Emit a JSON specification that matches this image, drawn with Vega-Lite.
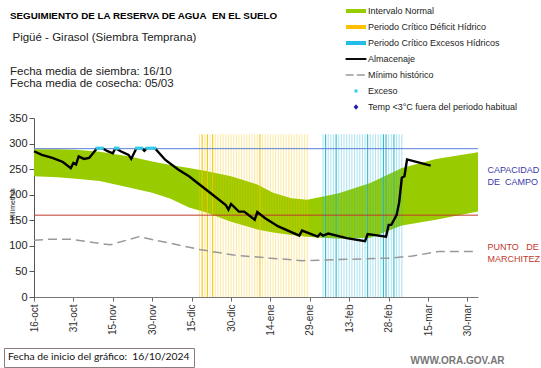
{
  "$schema": "https://vega.github.io/schema/vega-lite/v6.json",
  "width": 444,
  "height": 179,
  "autosize": "none",
  "padding": {"left": 34, "top": 118, "right": 63, "bottom": 71},
  "background": "white",
  "config": {"view": {"stroke": null}, "font": "Liberation Sans"},
  "title": {
    "text": "SEGUIMIENTO DE LA RESERVA DE AGUA\u00a0 EN EL SUELO",
    "subtitle": ["Fecha media de siembra: 16/10", "Fecha media de cosecha: 05/03"],
    "anchor": "start",
    "frame": "group",
    "dx": -24,
    "offset": -86,
    "font": "Liberation Sans",
    "fontSize": 9.8,
    "fontWeight": "bold",
    "color": "#000000",
    "subtitleFont": "Liberation Sans",
    "subtitleFontSize": 11.5,
    "subtitleColor": "#222222",
    "subtitleLineHeight": 11.5,
    "subtitlePadding": 45
  },
  "datasets": {
    "banda": [
      {"fecha": "2024-10-16", "min": 236, "max": 289},
      {"fecha": "2024-10-25", "min": 234, "max": 289},
      {"fecha": "2024-11-01", "min": 231, "max": 288},
      {"fecha": "2024-11-10", "min": 227, "max": 284},
      {"fecha": "2024-11-22", "min": 213, "max": 274},
      {"fecha": "2024-11-30", "min": 204, "max": 265},
      {"fecha": "2024-12-07", "min": 192, "max": 258},
      {"fecha": "2024-12-14", "min": 175, "max": 252},
      {"fecha": "2024-12-20", "min": 166, "max": 247},
      {"fecha": "2024-12-30", "min": 147, "max": 236},
      {"fecha": "2025-01-09", "min": 132, "max": 220},
      {"fecha": "2025-01-15", "min": 126, "max": 204},
      {"fecha": "2025-01-22", "min": 121, "max": 193},
      {"fecha": "2025-01-28", "min": 118, "max": 190},
      {"fecha": "2025-02-09", "min": 114, "max": 203},
      {"fecha": "2025-02-21", "min": 116, "max": 223},
      {"fecha": "2025-03-05", "min": 140, "max": 252},
      {"fecha": "2025-03-18", "min": 151, "max": 270},
      {"fecha": "2025-04-03", "min": 167, "max": 283}
    ],
    "franjas": [
      {"fecha": "2024-12-18", "periodo": "Déficit", "intensidad": 1},
      {"fecha": "2024-12-19", "periodo": "Déficit", "intensidad": 2},
      {"fecha": "2024-12-20", "periodo": "Déficit", "intensidad": 1},
      {"fecha": "2024-12-21", "periodo": "Déficit", "intensidad": 2},
      {"fecha": "2024-12-22", "periodo": "Déficit", "intensidad": 1},
      {"fecha": "2024-12-23", "periodo": "Déficit", "intensidad": 2},
      {"fecha": "2024-12-24", "periodo": "Déficit", "intensidad": 1},
      {"fecha": "2024-12-25", "periodo": "Déficit", "intensidad": 1},
      {"fecha": "2024-12-26", "periodo": "Déficit", "intensidad": 1},
      {"fecha": "2024-12-27", "periodo": "Déficit", "intensidad": 1},
      {"fecha": "2024-12-28", "periodo": "Déficit", "intensidad": 1},
      {"fecha": "2024-12-29", "periodo": "Déficit", "intensidad": 1},
      {"fecha": "2024-12-30", "periodo": "Déficit", "intensidad": 1},
      {"fecha": "2024-12-31", "periodo": "Déficit", "intensidad": 1},
      {"fecha": "2025-01-01", "periodo": "Déficit", "intensidad": 1},
      {"fecha": "2025-01-02", "periodo": "Déficit", "intensidad": 1},
      {"fecha": "2025-01-03", "periodo": "Déficit", "intensidad": 1},
      {"fecha": "2025-01-04", "periodo": "Déficit", "intensidad": 1},
      {"fecha": "2025-01-05", "periodo": "Déficit", "intensidad": 1},
      {"fecha": "2025-01-06", "periodo": "Déficit", "intensidad": 1},
      {"fecha": "2025-01-07", "periodo": "Déficit", "intensidad": 1},
      {"fecha": "2025-01-08", "periodo": "Déficit", "intensidad": 1},
      {"fecha": "2025-01-09", "periodo": "Déficit", "intensidad": 1},
      {"fecha": "2025-01-10", "periodo": "Déficit", "intensidad": 2},
      {"fecha": "2025-01-11", "periodo": "Déficit", "intensidad": 1},
      {"fecha": "2025-01-12", "periodo": "Déficit", "intensidad": 1},
      {"fecha": "2025-01-13", "periodo": "Déficit", "intensidad": 1},
      {"fecha": "2025-01-14", "periodo": "Déficit", "intensidad": 1},
      {"fecha": "2025-01-15", "periodo": "Déficit", "intensidad": 1},
      {"fecha": "2025-01-16", "periodo": "Déficit", "intensidad": 1},
      {"fecha": "2025-01-17", "periodo": "Déficit", "intensidad": 1},
      {"fecha": "2025-01-18", "periodo": "Déficit", "intensidad": 1},
      {"fecha": "2025-01-19", "periodo": "Déficit", "intensidad": 1},
      {"fecha": "2025-01-20", "periodo": "Déficit", "intensidad": 1},
      {"fecha": "2025-01-21", "periodo": "Déficit", "intensidad": 1},
      {"fecha": "2025-01-22", "periodo": "Déficit", "intensidad": 1},
      {"fecha": "2025-01-23", "periodo": "Déficit", "intensidad": 1},
      {"fecha": "2025-01-24", "periodo": "Déficit", "intensidad": 1},
      {"fecha": "2025-01-25", "periodo": "Déficit", "intensidad": 1},
      {"fecha": "2025-01-26", "periodo": "Déficit", "intensidad": 1},
      {"fecha": "2025-01-27", "periodo": "Déficit", "intensidad": 1},
      {"fecha": "2025-01-28", "periodo": "Déficit", "intensidad": 1},
      {"fecha": "2025-02-03", "periodo": "Excesos", "intensidad": 1},
      {"fecha": "2025-02-04", "periodo": "Excesos", "intensidad": 2},
      {"fecha": "2025-02-05", "periodo": "Excesos", "intensidad": 1},
      {"fecha": "2025-02-06", "periodo": "Excesos", "intensidad": 1},
      {"fecha": "2025-02-07", "periodo": "Excesos", "intensidad": 1},
      {"fecha": "2025-02-08", "periodo": "Excesos", "intensidad": 2},
      {"fecha": "2025-02-09", "periodo": "Excesos", "intensidad": 1},
      {"fecha": "2025-02-10", "periodo": "Excesos", "intensidad": 1},
      {"fecha": "2025-02-11", "periodo": "Excesos", "intensidad": 1},
      {"fecha": "2025-02-12", "periodo": "Excesos", "intensidad": 1},
      {"fecha": "2025-02-13", "periodo": "Excesos", "intensidad": 1},
      {"fecha": "2025-02-14", "periodo": "Excesos", "intensidad": 1},
      {"fecha": "2025-02-15", "periodo": "Excesos", "intensidad": 1},
      {"fecha": "2025-02-16", "periodo": "Excesos", "intensidad": 1},
      {"fecha": "2025-02-17", "periodo": "Excesos", "intensidad": 1},
      {"fecha": "2025-02-18", "periodo": "Excesos", "intensidad": 1},
      {"fecha": "2025-02-19", "periodo": "Excesos", "intensidad": 1},
      {"fecha": "2025-02-20", "periodo": "Excesos", "intensidad": 2},
      {"fecha": "2025-02-21", "periodo": "Excesos", "intensidad": 1},
      {"fecha": "2025-02-22", "periodo": "Excesos", "intensidad": 1},
      {"fecha": "2025-02-23", "periodo": "Excesos", "intensidad": 1},
      {"fecha": "2025-02-24", "periodo": "Excesos", "intensidad": 1},
      {"fecha": "2025-02-25", "periodo": "Excesos", "intensidad": 1},
      {"fecha": "2025-02-26", "periodo": "Excesos", "intensidad": 2},
      {"fecha": "2025-02-27", "periodo": "Excesos", "intensidad": 2},
      {"fecha": "2025-02-28", "periodo": "Excesos", "intensidad": 1},
      {"fecha": "2025-03-01", "periodo": "Excesos", "intensidad": 1},
      {"fecha": "2025-03-02", "periodo": "Excesos", "intensidad": 2},
      {"fecha": "2025-03-03", "periodo": "Excesos", "intensidad": 1},
      {"fecha": "2025-03-04", "periodo": "Excesos", "intensidad": 1},
      {"fecha": "2025-03-05", "periodo": "Excesos", "intensidad": 1}
    ],
    "niveles": [
      {"nivel": "Capacidad de campo", "mm": 290},
      {"nivel": "Punto de marchitez", "mm": 160}
    ],
    "minimo": [
      {"fecha": "2024-10-16", "mm": 111},
      {"fecha": "2024-10-22", "mm": 113},
      {"fecha": "2024-10-30", "mm": 113},
      {"fecha": "2024-11-14", "mm": 102},
      {"fecha": "2024-11-25", "mm": 118},
      {"fecha": "2024-12-05", "mm": 107},
      {"fecha": "2024-12-18", "mm": 93},
      {"fecha": "2024-12-31", "mm": 82},
      {"fecha": "2025-01-14", "mm": 76},
      {"fecha": "2025-01-26", "mm": 71},
      {"fecha": "2025-02-08", "mm": 73},
      {"fecha": "2025-02-28", "mm": 76},
      {"fecha": "2025-03-09", "mm": 80},
      {"fecha": "2025-03-19", "mm": 89},
      {"fecha": "2025-04-03", "mm": 89}
    ],
    "almacenaje": [
      {"fecha": "2024-10-16", "mm": 285},
      {"fecha": "2024-10-19", "mm": 278},
      {"fecha": "2024-10-23", "mm": 272},
      {"fecha": "2024-10-27", "mm": 264},
      {"fecha": "2024-10-30", "mm": 252},
      {"fecha": "2024-10-31", "mm": 262},
      {"fecha": "2024-11-01", "mm": 259},
      {"fecha": "2024-11-02", "mm": 275},
      {"fecha": "2024-11-04", "mm": 270},
      {"fecha": "2024-11-06", "mm": 272},
      {"fecha": "2024-11-07", "mm": 278},
      {"fecha": "2024-11-09", "mm": 291},
      {"fecha": "2024-11-11", "mm": 291},
      {"fecha": "2024-11-13", "mm": 285},
      {"fecha": "2024-11-15", "mm": 281},
      {"fecha": "2024-11-16", "mm": 291},
      {"fecha": "2024-11-18", "mm": 285},
      {"fecha": "2024-11-21", "mm": 278},
      {"fecha": "2024-11-22", "mm": 270},
      {"fecha": "2024-11-24", "mm": 291},
      {"fecha": "2024-11-26", "mm": 291},
      {"fecha": "2024-11-27", "mm": 286},
      {"fecha": "2024-11-28", "mm": 291},
      {"fecha": "2024-12-01", "mm": 291},
      {"fecha": "2024-12-05", "mm": 268},
      {"fecha": "2024-12-10", "mm": 249},
      {"fecha": "2024-12-14", "mm": 236},
      {"fecha": "2024-12-18", "mm": 220},
      {"fecha": "2024-12-23", "mm": 200},
      {"fecha": "2024-12-28", "mm": 180},
      {"fecha": "2024-12-29", "mm": 171},
      {"fecha": "2024-12-30", "mm": 182},
      {"fecha": "2025-01-02", "mm": 167},
      {"fecha": "2025-01-04", "mm": 167},
      {"fecha": "2025-01-08", "mm": 151},
      {"fecha": "2025-01-09", "mm": 166},
      {"fecha": "2025-01-12", "mm": 154},
      {"fecha": "2025-01-17", "mm": 138},
      {"fecha": "2025-01-25", "mm": 120},
      {"fecha": "2025-01-26", "mm": 130},
      {"fecha": "2025-02-01", "mm": 118},
      {"fecha": "2025-02-02", "mm": 124},
      {"fecha": "2025-02-03", "mm": 120},
      {"fecha": "2025-02-05", "mm": 124},
      {"fecha": "2025-02-12", "mm": 115},
      {"fecha": "2025-02-19", "mm": 109},
      {"fecha": "2025-02-20", "mm": 123},
      {"fecha": "2025-02-27", "mm": 118},
      {"fecha": "2025-02-28", "mm": 141},
      {"fecha": "2025-03-01", "mm": 141},
      {"fecha": "2025-03-03", "mm": 160},
      {"fecha": "2025-03-04", "mm": 185},
      {"fecha": "2025-03-05", "mm": 233},
      {"fecha": "2025-03-06", "mm": 236},
      {"fecha": "2025-03-07", "mm": 269},
      {"fecha": "2025-03-16", "mm": 257}
    ],
    "exceso": [
      {"fecha": "2024-11-09", "mm": 291, "serie": "Exceso"},
      {"fecha": "2024-11-10", "mm": 291, "serie": "Exceso"},
      {"fecha": "2024-11-11", "mm": 291, "serie": "Exceso"},
      {"fecha": "2024-11-16", "mm": 291, "serie": "Exceso"},
      {"fecha": "2024-11-17", "mm": 291, "serie": "Exceso"},
      {"fecha": "2024-11-24", "mm": 291, "serie": "Exceso"},
      {"fecha": "2024-11-25", "mm": 291, "serie": "Exceso"},
      {"fecha": "2024-11-26", "mm": 291, "serie": "Exceso"},
      {"fecha": "2024-11-28", "mm": 291, "serie": "Exceso"},
      {"fecha": "2024-11-29", "mm": 291, "serie": "Exceso"},
      {"fecha": "2024-11-30", "mm": 291, "serie": "Exceso"},
      {"fecha": "2024-12-01", "mm": 291, "serie": "Exceso"}
    ]
  },
  "layer": [
    {
      "data": {"name": "banda"},
      "mark": {"type": "area", "color": "#99cc00", "opacity": 1},
      "encoding": {
        "x": {
          "field": "fecha", "type": "temporal",
          "scale": {"type": "utc", "domain": [{"year": 2024, "month": 10, "date": 16, "utc": true}, {"year": 2025, "month": 4, "date": 3, "utc": true}]},
          "axis": {
            "orient": "bottom",
            "values": [
              {"year": 2024, "month": 10, "date": 16, "utc": true},
              {"year": 2024, "month": 10, "date": 31, "utc": true},
              {"year": 2024, "month": 11, "date": 15, "utc": true},
              {"year": 2024, "month": 11, "date": 30, "utc": true},
              {"year": 2024, "month": 12, "date": 15, "utc": true},
              {"year": 2024, "month": 12, "date": 30, "utc": true},
              {"year": 2025, "month": 1, "date": 14, "utc": true},
              {"year": 2025, "month": 1, "date": 29, "utc": true},
              {"year": 2025, "month": 2, "date": 13, "utc": true},
              {"year": 2025, "month": 2, "date": 28, "utc": true},
              {"year": 2025, "month": 3, "date": 15, "utc": true},
              {"year": 2025, "month": 3, "date": 30, "utc": true}
            ],
            "labelExpr": "utcdate(datum.value) + '-' + ['ene','feb','mar','abr','may','jun','jul','ago','sep','oct','nov','dic'][utcmonth(datum.value)]",
            "labelAngle": -90,
            "labelAlign": "right",
            "labelBaseline": "middle",
            "labelFont": "Liberation Sans",
            "labelFontSize": 10,
            "labelColor": "#333333",
            "labelPadding": 3,
            "labelOverlap": false,
            "labelFlush": false,
            "tickSize": 4,
            "tickColor": "#666666",
            "domainColor": "#777777",
            "grid": false,
            "title": null
          }
        },
        "y": {
          "field": "min", "type": "quantitative",
          "scale": {"domain": [0, 350], "nice": false},
          "axis": {
            "values": [0, 50, 100, 150, 200, 250, 300, 350],
            "labelFont": "Liberation Sans",
            "labelFontSize": 11,
            "labelColor": "#222222",
            "labelPadding": 2,
            "tickSize": 5,
            "tickColor": "#555555",
            "domainColor": "#555555",
            "grid": false,
            "title": "Milímetros",
            "titleFont": "Liberation Sans",
            "titleFontSize": 7,
            "titleFontWeight": "normal",
            "titleColor": "#222222",
            "titleAngle": -90,
            "titleAlign": "center",
            "titleBaseline": "middle",
            "titleX": -22,
            "titleY": 86
          }
        },
        "y2": {"field": "max"}
      }
    },
    {
      "data": {"name": "franjas"},
      "mark": {"type": "rule", "strokeWidth": 1.1},
      "encoding": {
        "x": {"field": "fecha", "type": "temporal", "scale": {"type": "utc", "domain": [{"year": 2024, "month": 10, "date": 16, "utc": true}, {"year": 2025, "month": 4, "date": 3, "utc": true}]}, "axis": null},
        "y": {"datum": 0, "type": "quantitative", "scale": {"domain": [0, 350], "nice": false}, "axis": null},
        "y2": {"datum": 318},
        "stroke": {
          "field": "periodo", "type": "nominal",
          "scale": {"domain": ["Déficit", "Excesos", "Capacidad de campo", "Punto de marchitez"], "range": ["#f5c400", "#1cb5d6", "#5b7fd6", "#c0392b"]},
          "legend": {
            "values": [],
            "orient": "none",
            "legendX": -30,
            "legendY": 230,
            "title": "Fecha de inicio del gráfico:\u00a0 16/10/2024\u00a0\u00a0\u00a0\u00a0\u00a0\u00a0\u00a0\u00a0\u00a0\u00a0",
            "titleFont": "Lato",
            "titleFontSize": 10.3,
            "titleFontWeight": "normal",
            "titleColor": "#111111",
            "titleBaseline": "top",
            "titleLimit": 400,
            "titlePadding": 0,
            "padding": 4,
            "strokeColor": "#8a7c7c",
            "fillColor": "#ffffff"
          }
        },
        "opacity": {"field": "intensidad", "type": "ordinal", "scale": {"domain": [1, 2], "range": [0.35, 0.95]}, "legend": null}
      }
    },
    {
      "data": {"name": "niveles"},
      "mark": {"type": "rule", "strokeWidth": 1},
      "encoding": {
        "y": {
          "field": "mm", "type": "quantitative",
          "scale": {"domain": [0, 350], "nice": false},
          "axis": {
            "orient": "right",
            "values": [249, 98],
            "labelExpr": "datum.value > 200 ? ['CAPACIDAD', 'DE\u00a0 CAMPO'] : ['PUNTO\u00a0\u00a0 DE', 'MARCHITEZ']",
            "labelColor": {"condition": {"test": "datum.value > 200", "value": "#3a3aa8"}, "value": "#c0392b"},
            "labelFont": "Liberation Sans",
            "labelFontSize": 9,
            "labelLineHeight": 12,
            "labelAlign": "left",
            "labelBaseline": "middle",
            "labelPadding": 9,
            "ticks": false,
            "domain": false,
            "grid": false,
            "title": "WWW.ORA.GOV.AR",
            "titleFont": "Liberation Sans",
            "titleFontSize": 10,
            "titleFontWeight": "bold",
            "titleColor": "#777777",
            "titleAngle": 0,
            "titleAlign": "left",
            "titleBaseline": "middle",
            "titleX": -68,
            "titleY": 242
          }
        },
        "stroke": {"field": "nivel", "type": "nominal", "scale": {"domain": ["Déficit", "Excesos", "Capacidad de campo", "Punto de marchitez"], "range": ["#f5c400", "#1cb5d6", "#5b7fd6", "#c0392b"]}, "legend": null}
      }
    },
    {
      "data": {"name": "minimo"},
      "mark": {"type": "line", "color": "#999999", "strokeWidth": 1.5, "strokeDash": [9, 5]},
      "encoding": {
        "x": {
          "field": "fecha", "type": "temporal",
          "scale": {"type": "utc", "domain": [{"year": 2024, "month": 10, "date": 16, "utc": true}, {"year": 2025, "month": 4, "date": 3, "utc": true}]},
          "axis": {
            "orient": "top",
            "labels": false,
            "ticks": false,
            "domain": false,
            "grid": false,
            "title": "Pigüé - Girasol (Siembra Temprana)",
            "titleFont": "Liberation Sans",
            "titleFontSize": 11.5,
            "titleFontWeight": "normal",
            "titleColor": "#222222",
            "titleAlign": "left",
            "titleBaseline": "middle",
            "titleX": -22,
            "titleY": -81
          }
        },
        "y": {"field": "mm", "type": "quantitative", "scale": {"domain": [0, 350], "nice": false}, "axis": null}
      }
    },
    {
      "data": {"name": "almacenaje"},
      "mark": {"type": "line", "color": "#000000", "strokeWidth": 2.4},
      "encoding": {
        "x": {"field": "fecha", "type": "temporal", "scale": {"type": "utc", "domain": [{"year": 2024, "month": 10, "date": 16, "utc": true}, {"year": 2025, "month": 4, "date": 3, "utc": true}]}, "axis": null},
        "y": {"field": "mm", "type": "quantitative", "scale": {"domain": [0, 350], "nice": false}, "axis": null}
      }
    },
    {
      "data": {"name": "exceso"},
      "mark": {"type": "point", "filled": true, "opacity": 1, "size": 256, "strokeWidth": 0},
      "encoding": {
        "x": {"field": "fecha", "type": "temporal", "scale": {"type": "utc", "domain": [{"year": 2024, "month": 10, "date": 16, "utc": true}, {"year": 2025, "month": 4, "date": 3, "utc": true}]}, "axis": null},
        "y": {"field": "mm", "type": "quantitative", "scale": {"domain": [0, 350], "nice": false}, "axis": null},
        "color": {
          "field": "serie", "type": "nominal",
          "scale": {
            "domain": ["Intervalo Normal", "Periodo Crítico Déficit Hídrico", "Periodo Crítico Excesos Hídricos", "Almacenaje", "Mínimo histórico", "Exceso", "Temp <3°C fuera del periodo habitual"],
            "range": ["#99cc00", "#ffc000", "#22bde6", "#000000", "#999999", "#33ccee", "#1f1fa8"]
          },
          "legend": {"orient": "none", "legendX": 314, "legendY": -115, "title": null, "symbolSize": 256, "symbolStrokeWidth": 0, "symbolOpacity": 1, "labelFont": "Liberation Sans", "labelFontSize": 9, "labelColor": "#222222", "labelOffset": 4, "rowPadding": 3, "padding": 0}
        },
        "shape": {
          "field": "serie", "type": "nominal",
          "scale": {
            "domain": ["Intervalo Normal", "Periodo Crítico Déficit Hídrico", "Periodo Crítico Excesos Hídricos", "Almacenaje", "Mínimo histórico", "Exceso", "Temp <3°C fuera del periodo habitual"],
            "range": [
              "M-1.25,-0.25H1.25V0.25H-1.25Z",
              "M-1.25,-0.25H1.25V0.25H-1.25Z",
              "M-1.25,-0.25H1.25V0.25H-1.25Z",
              "M-1.3,-0.12H1.3V0.12H-1.3Z",
              "M-1.3,-0.1H-0.3V0.1H-1.3Z M0.1,-0.1H1.1V0.1H0.1Z",
              "M-0.19,-0.19H0.19V0.19H-0.19Z",
              "M0,-0.35L0.3,0L0,0.35L-0.3,0Z"
            ]
          },
          "legend": {"orient": "none", "legendX": 314, "legendY": -115, "title": null, "symbolSize": 256, "symbolStrokeWidth": 0, "symbolOpacity": 1, "labelFont": "Liberation Sans", "labelFontSize": 9, "labelColor": "#222222", "labelOffset": 4, "rowPadding": 3, "padding": 0}
        }
      }
    }
  ],
  "resolve": {"axis": {"x": "independent", "y": "independent"}}
}
